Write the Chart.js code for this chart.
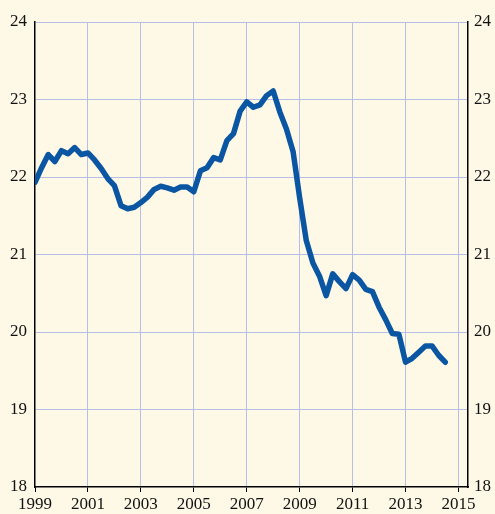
<!DOCTYPE html>
<html>
<head>
<meta charset="utf-8">
<script src="https://cdn.jsdelivr.net/npm/chart.js@4/dist/chart.umd.min.js"></script>
<style>
  html, body { margin: 0; padding: 0; background: #fef9e6; }
  canvas { display: block; }
</style>
</head>
<body>
<canvas id="grafico" width="495" height="514"></canvas>
<script>
// quarterly values, first quarter 1999
const firstYear = 1999;
const values = [
  21.93, 22.12, 22.29, 22.20, 22.34, 22.30, 22.38, 22.29,
  22.31, 22.22, 22.11, 21.98, 21.89, 21.63, 21.59, 21.61,
  21.67, 21.74, 21.84, 21.88, 21.86, 21.83, 21.87, 21.87,
  21.81, 22.08, 22.12, 22.25, 22.22, 22.47, 22.56, 22.85,
  22.97, 22.90, 22.93, 23.05, 23.11, 22.84, 22.62, 22.33,
  21.73, 21.18, 20.89, 20.72, 20.47, 20.75, 20.65, 20.56,
  20.74, 20.67, 20.55, 20.52, 20.32, 20.16, 19.98, 19.97,
  19.61, 19.66, 19.74, 19.82, 19.82, 19.70, 19.61
];
const xTicks = [1999, 2001, 2003, 2005, 2007, 2009, 2011, 2013, 2015];
const yTicks = [18, 19, 20, 21, 22, 23, 24];

const puntos = values.map((v, i) => ({ x: firstYear + i / 4, y: v }));
const fuente = { family: "'Liberation Serif', 'Times New Roman', Times, serif", size: 17 };
const gridColor = '#b6bee6';

function fixTicks(list) {
  return scale => { scale.ticks = list.map(v => ({ value: v })); };
}

new Chart(document.getElementById('grafico'), {
  type: 'line',
  data: {
    datasets: [{
      data: puntos,
      borderColor: '#0b56a2',
      borderWidth: 5.5,
      pointRadius: 0,
      tension: 0,
      borderJoinStyle: 'round',
      borderCapStyle: 'round',
      yAxisID: 'y'
    }]
  },
  options: {
    responsive: false,
    animation: false,
    layout: { padding: { top: 22, left: 0, right: 0, bottom: 0 } },
    plugins: { legend: { display: false }, tooltip: { enabled: false } },
    scales: {
      x: {
        type: 'linear',
        min: 1999,
        max: 2015.36,
        afterBuildTicks: fixTicks(xTicks),
        afterFit: s => { s.height = 27; },
        grid: {
          color: c => c.tick && c.tick.value === 1999 ? 'rgba(0,0,0,0)' : gridColor,
          tickColor: '#000',
          tickLength: 5,
          lineWidth: 1
        },
        border: { color: '#000', width: 1.5 },
        ticks: { font: fuente, color: '#111', padding: 2, maxRotation: 0, autoSkip: false,
                 callback: v => String(v) }
      },
      y: {
        position: 'left',
        min: 18,
        max: 24,
        afterBuildTicks: fixTicks(yTicks),
        afterFit: s => { s.width = 35; },
        grid: {
          color: c => c.tick && c.tick.value === 18 ? 'rgba(0,0,0,0)' : gridColor,
          drawTicks: false,
          lineWidth: 1
        },
        border: { color: '#000', width: 1.5 },
        ticks: { font: fuente, color: '#111', padding: 8 }
      },
      y2: {
        position: 'right',
        min: 18,
        max: 24,
        afterBuildTicks: fixTicks(yTicks),
        afterFit: s => { s.width = 27; },
        grid: { display: false, drawTicks: false },
        border: { color: '#000', width: 1.5 },
        ticks: { font: fuente, color: '#111', padding: 6 }
      }
    }
  }
});
</script>
</body>
</html>
